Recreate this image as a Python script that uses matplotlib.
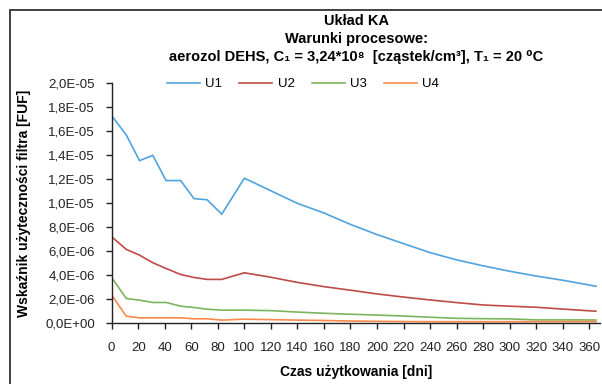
import matplotlib
matplotlib.use("Agg")
import matplotlib.pyplot as plt
from matplotlib.patches import Rectangle
from matplotlib.ticker import FuncFormatter, MultipleLocator

plt.rcParams['font.family'] = ['Liberation Sans', 'DejaVu Sans']

# ---------------------------------
# Data
# ---------------------------------

days = [0, 11, 21, 31, 41, 52, 62, 72, 83, 100,
        120, 140, 160, 180, 200, 220, 240, 260, 280, 300, 320, 340, 365]

u1 = [17.3, 15.7, 13.56, 14.0, 11.9, 11.9, 10.4, 10.3, 9.1, 12.1,
      11.05, 10.0, 9.2, 8.25, 7.4, 6.65, 5.9, 5.3, 4.8, 4.35, 3.95, 3.6, 3.1]
u2 = [7.22, 6.17, 5.69, 5.06, 4.58, 4.08, 3.83, 3.67, 3.67, 4.22,
      3.85, 3.42, 3.07, 2.77, 2.46, 2.2, 1.96, 1.74, 1.54, 1.44, 1.35, 1.2, 1.02]
u3 = [3.83, 2.08, 1.94, 1.75, 1.75, 1.44, 1.33, 1.19, 1.11, 1.11,
      1.07, 0.95, 0.85, 0.77, 0.7, 0.62, 0.52, 0.43, 0.4, 0.38, 0.3, 0.3, 0.29]
u4 = [2.36, 0.61, 0.47, 0.47, 0.47, 0.47, 0.39, 0.39, 0.28, 0.36,
      0.32, 0.28, 0.25, 0.2, 0.18, 0.16, 0.15, 0.15, 0.15, 0.15, 0.15, 0.15, 0.15]

series = {"U1": u1, "U2": u2, "U3": u3, "U4": u4}
colors = {"U1": "#4FA3DE", "U2": "#BE4B48", "U3": "#7AB55C", "U4": "#F7894A"}

# ---------------------------------
# Figure
# ---------------------------------

fig = plt.figure(figsize=(6.02, 3.84), dpi=100)
ax = fig.add_axes([0.1855, 0.1576, 0.811, 0.6255])

for name, vals in series.items():
    ax.plot(days, [v * 1e-6 for v in vals], color=colors[name], lw=1.2, label=name)

ax.set_xlim(0, 368)
ax.set_ylim(0, 2.0e-5)
ax.xaxis.set_major_locator(MultipleLocator(20))
ax.yaxis.set_major_locator(MultipleLocator(2.0e-6))
ax.yaxis.set_major_formatter(FuncFormatter(lambda v, p: f"{v:.1E}".replace(".", ",")))

for s in ["top", "right"]:
    ax.spines[s].set_visible(False)
for s in ["left", "bottom"]:
    ax.spines[s].set_color("#222222")
    ax.spines[s].set_linewidth(1.0)

ax.tick_params(axis="both", direction="out", length=4, width=1.0, color="#222222",
               labelsize=9.5, labelcolor="#222222")
ax.tick_params(axis="x", pad=9)
ax.tick_params(axis="y", pad=8)

ax.set_xlabel("Czas użytkowania [dni]", fontsize=10, fontweight="bold", labelpad=8)
ax.set_ylabel("Wskaźnik użyteczności filtra [FUF]", fontsize=10, fontweight="bold", labelpad=10)

ax.legend(loc="center", bbox_to_anchor=(0.392, 0.997), ncol=4, frameon=False,
          fontsize=9.5, handlelength=2.5, columnspacing=1.3, handletextpad=0.4)

fig.text(0.592, 0.945, "Układ KA", ha="center", va="center", fontsize=10.5, fontweight="bold")
fig.text(0.592, 0.898, "Warunki procesowe:", ha="center", va="center", fontsize=10.5, fontweight="bold")
fig.text(0.592, 0.851, "aerozol DEHS, C₁ = 3,24*10⁸  [cząstek/cm³], T₁ = 20 ⁰C",
         ha="center", va="center", fontsize=10.5, fontweight="bold")

# outer frame
fig.patches.append(Rectangle((10 / 602, -0.1), 1.2, (384 - 10) / 384 + 0.1,
                             transform=fig.transFigure, fill=False,
                             edgecolor="#333333", lw=1.3))

fig.savefig("out.png", dpi=100)
